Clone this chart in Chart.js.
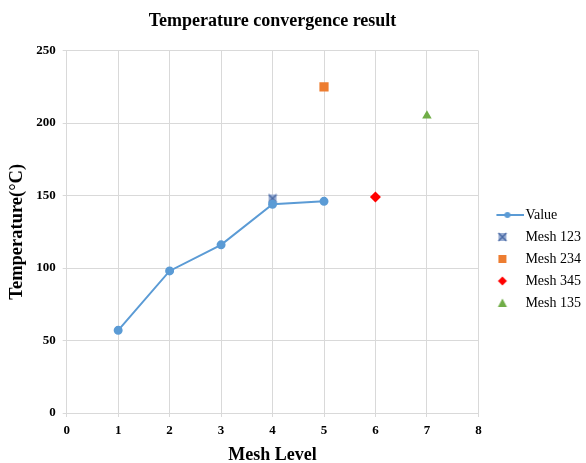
<!DOCTYPE html>
<html>
<head>
<meta charset="utf-8">
<script src="https://cdn.jsdelivr.net/npm/chart.js@4"></script>
<style>
  html, body { margin: 0; padding: 0; background: #fff; }
  #wrap { width: 586px; height: 463px; }
</style>
</head>
<body>
<div id="wrap"><canvas id="chart"></canvas></div>
<script>
// data
const meshLevels = [1, 2, 3, 4, 5];
const values = [57, 98, 116, 144, 146];
const mesh123 = [{ x: 4, y: 148 }];
const mesh234 = [{ x: 5, y: 225 }];
const mesh345 = [{ x: 6, y: 149 }];
const mesh135 = [{ x: 7, y: 205 }];

const serif = '"Liberation Serif", "Times New Roman", serif';

// marker drawing for the small icons (legend + the boxed cross marker)
function drawMarker(g, kind, cx, cy) {
    if (kind === 'line') {
        g.strokeStyle = '#5B9BD5';
        g.lineWidth = 2;
        g.beginPath(); g.moveTo(6, cy); g.lineTo(g.canvas.width, cy); g.stroke();
        g.fillStyle = '#5B9BD5';
        g.beginPath(); g.arc(cx, cy, 3, 0, Math.PI * 2); g.fill();
    } else if (kind === 'cross') {
        g.fillStyle = '#9AAED3';
        g.fillRect(cx - 4, cy - 4, 8, 8);
        g.strokeStyle = '#4A6AA5';
        g.lineWidth = 1.5;
        g.beginPath();
        g.moveTo(cx - 4, cy - 4); g.lineTo(cx + 4, cy + 4);
        g.moveTo(cx + 4, cy - 4); g.lineTo(cx - 4, cy + 4);
        g.stroke();
    } else if (kind === 'square') {
        g.fillStyle = '#ED7D31';
        g.fillRect(cx - 4, cy - 4, 8, 8);
    } else if (kind === 'diamond') {
        g.fillStyle = '#FF0000';
        g.beginPath();
        g.moveTo(cx, cy - 4.5); g.lineTo(cx + 4.5, cy); g.lineTo(cx, cy + 4.5); g.lineTo(cx - 4.5, cy);
        g.closePath(); g.fill();
    } else if (kind === 'triangle') {
        g.fillStyle = '#70AD47';
        g.beginPath();
        g.moveTo(cx, cy - 4.5); g.lineTo(cx + 4.5, cy + 4); g.lineTo(cx - 4.5, cy + 4);
        g.closePath(); g.fill();
    }
}
function icon(kind, w, h, cx) {
    const c = document.createElement('canvas');
    c.width = w; c.height = h;
    drawMarker(c.getContext('2d'), kind, cx, h / 2);
    return c;
}
const crossImg = icon('cross', 10, 10, 5);
const legendIcons = ['line', 'cross', 'square', 'diamond', 'triangle'].map(k =>
    k === 'line' ? icon(k, 34, 10, 17) : icon(k, 22, 10, 6)
);

// center the chart title on the plot area and leave a wider gap before the legend
const excelLayout = {
    id: 'excelLayout',
    afterLayout(chart) {
        const t = chart.titleBlock;
        if (t) { t.left = chart.chartArea.left; t.right = chart.chartArea.right; }
        if (chart.legend) { chart.legend.left += 10; chart.legend.right += 10; }
    }
};

new Chart(document.getElementById('chart'), {
    type: 'scatter',
    data: {
        datasets: [
            {
                label: 'Value',
                data: meshLevels.map((m, i) => ({ x: m, y: values[i] })),
                showLine: true,
                borderColor: '#5B9BD5',
                backgroundColor: '#5B9BD5',
                borderWidth: 2,
                pointRadius: 3.5,
                pointStyle: 'circle'
            },
            {
                label: 'Mesh 123',
                data: mesh123,
                pointStyle: crossImg,
                backgroundColor: '#9AAED3',
                borderColor: '#4A6AA5'
            },
            {
                label: 'Mesh 234',
                data: mesh234,
                pointStyle: 'rect',
                pointRadius: 6.5,
                borderWidth: 0,
                backgroundColor: '#ED7D31',
                borderColor: '#ED7D31'
            },
            {
                label: 'Mesh 345',
                data: mesh345,
                pointStyle: 'rectRot',
                pointRadius: 5.5,
                borderWidth: 0,
                backgroundColor: '#FF0000',
                borderColor: '#FF0000'
            },
            {
                label: 'Mesh 135',
                data: mesh135,
                pointStyle: 'triangle',
                pointRadius: 5.5,
                borderWidth: 0,
                backgroundColor: '#70AD47',
                borderColor: '#70AD47'
            }
        ]
    },
    options: {
        responsive: true,
        maintainAspectRatio: false,
        animation: false,
        layout: { padding: { top: 7, right: 5, left: 4, bottom: 0 } },
        scales: {
            x: {
                min: 0, max: 8,
                ticks: { stepSize: 1, padding: 6, color: '#000', font: { family: serif, size: 13, weight: 'bold' } },
                grid: { color: '#D9D9D9', tickLength: 4 },
                border: { color: '#D9D9D9' },
                title: {
                    display: true, text: 'Mesh Level', color: '#000',
                    padding: { top: 4, bottom: 0 },
                    font: { family: serif, size: 18, weight: 'bold', lineHeight: 0.8 }
                }
            },
            y: {
                min: 0, max: 250,
                ticks: { stepSize: 50, padding: 7, color: '#000', font: { family: serif, size: 13, weight: 'bold' } },
                grid: { color: '#D9D9D9', tickLength: 4 },
                border: { color: '#D9D9D9' },
                title: {
                    display: true, text: 'Temperature(°C)', color: '#000',
                    padding: { top: 2, bottom: 1 },
                    font: { family: serif, size: 18.5, weight: 'bold' }
                }
            }
        },
        plugins: {
            title: {
                display: true,
                text: 'Temperature convergence result',
                color: '#000',
                font: { family: serif, size: 18, weight: 'bold' },
                padding: { top: 4, bottom: 18 }
            },
            legend: {
                position: 'right',
                title: { display: true, text: ' ', font: { size: 10 }, padding: { top: 0, bottom: 36 } },
                labels: {
                    usePointStyle: true,
                    pointStyleWidth: 22,
                    boxHeight: 10,
                    color: '#000',
                    font: { family: serif, size: 14 },
                    padding: 8,
                    generateLabels: function (chart) {
                        const items = Chart.defaults.plugins.legend.labels.generateLabels(chart);
                        items.forEach((it, i) => { it.pointStyle = legendIcons[i]; });
                        return items;
                    }
                }
            },
            tooltip: { enabled: false }
        }
    },
    plugins: [excelLayout]
});
</script>
</body>
</html>
